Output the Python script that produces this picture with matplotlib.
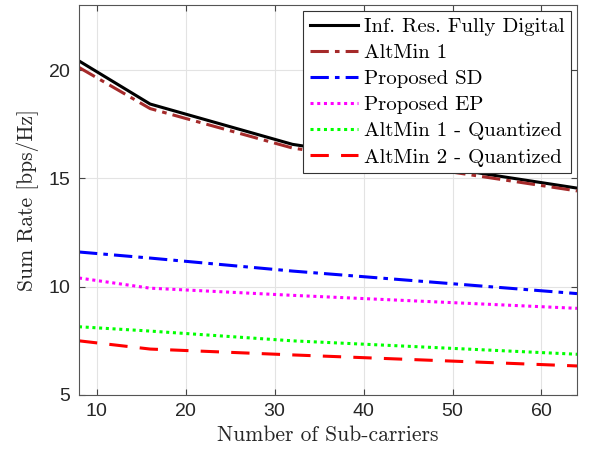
import matplotlib
matplotlib.use("Agg")
import matplotlib.pyplot as plt

x = [8, 16, 32, 64]
full_digital = [20.42, 18.43, 16.57, 14.55]
altmin1 = [20.12, 18.22, 16.40, 14.42]
proposed_sd = [11.6, 11.32, 10.72, 9.68]
proposed_ep = [10.4, 9.93, 9.6, 9.0]
altmin1_q = [8.15, 7.95, 7.5, 6.88]
altmin2_q = [7.5, 7.12, 6.85, 6.34]

labels = ["Inf. Res. Fully Digital", "AltMin 1", "Proposed SD", "Proposed EP",
          "AltMin 1 - Quantized", "AltMin 2 - Quantized"]

plt.rcParams['axes.formatter.use_mathtext'] = True
fig = plt.figure(figsize=(5.92, 4.57), dpi=100)
ax = fig.add_axes([0.1334, 0.1357, 0.9747 - 0.1334, 0.989 - 0.1357])

ax.plot(x, full_digital, color='black', lw=2.2, ls='-', label=labels[0])
ax.plot(x, altmin1, color='#A52A2A', lw=2.2, ls=(0, (6, 2, 1.5, 2)), label=labels[1])
ax.plot(x, proposed_sd, color='#0000FF', lw=2.2, ls=(0, (6, 2, 1.5, 2)), label=labels[2])
ax.plot(x, proposed_ep, color='#FF00FF', lw=2.2, ls=(0, (1, 1.2)), label=labels[3])
ax.plot(x, altmin1_q, color='#00FF00', lw=2.2, ls=(0, (1, 1.2)), label=labels[4])
ax.plot(x, altmin2_q, color='#FF0000', lw=2.2, ls=(0, (6, 4)), label=labels[5])

ax.set_xlim(8, 64)
ax.set_ylim(5, 23)
ax.set_xticks([10, 20, 30, 40, 50, 60])
ax.set_yticks([5, 10, 15, 20])
ax.grid(True, color='#e3e3e3', lw=0.8)
ax.set_axisbelow(True)
ax.tick_params(direction='in', length=4, color='#444444', labelsize=14,
               top=True, right=True, labelcolor='#262626', pad=6)
for lab in ax.get_xticklabels() + ax.get_yticklabels():
    lab.set_family('Liberation Sans')
for s in ax.spines.values():
    s.set_color('#555555')
    s.set_linewidth(0.8)

ax.set_xlabel('Number of Sub-carriers', family='cmr10', fontsize=15.5, color='#262626', labelpad=4)
ax.set_ylabel('Sum Rate [bps/Hz]', family='cmr10', fontsize=15.5, color='#262626', labelpad=6)

leg = ax.legend(loc='upper right', prop={'family': 'cmr10', 'size': 15},
                fancybox=False, edgecolor='#333333', framealpha=1,
                handlelength=2.3, handletextpad=0.3, borderpad=0.3,
                labelspacing=0.36, borderaxespad=0.3)
leg.get_frame().set_linewidth(0.8)

fig.savefig('out.png', dpi=100)
